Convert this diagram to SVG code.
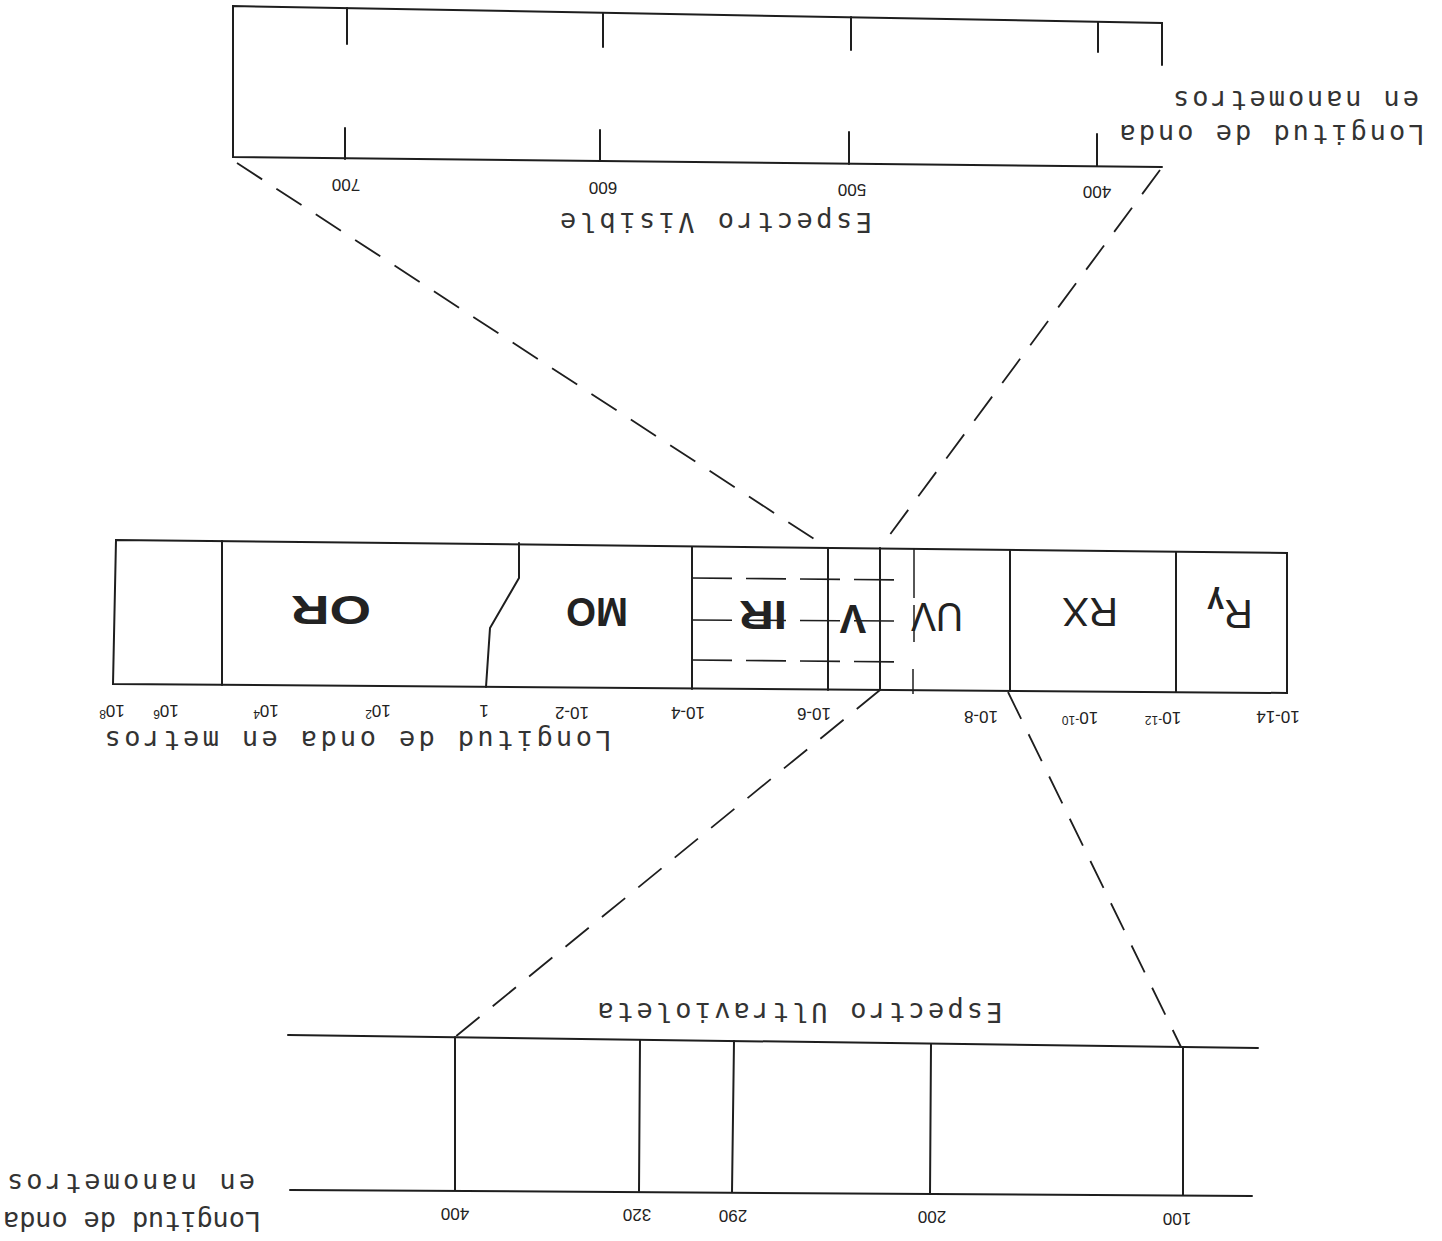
<svg xmlns="http://www.w3.org/2000/svg" width="1442" height="1241" viewBox="0 0 1442 1241">
<style>
.ln{stroke:#1e1e1e;stroke-width:2;fill:none;stroke-linecap:round}
.th{stroke:#1e1e1e;stroke-width:1.5;fill:none}
.dash{stroke:#1e1e1e;stroke-width:1.8;fill:none;stroke-dasharray:30 17}
.idash{stroke:#1e1e1e;stroke-width:1.6;fill:none;stroke-dasharray:40 14}
.mono{font-family:"DejaVu Sans Mono","Liberation Mono",monospace;font-size:27px;fill:#333;text-anchor:middle;dominant-baseline:central}
.num{font-family:"Liberation Sans",Arial,sans-serif;font-size:17px;fill:#222;text-anchor:middle;dominant-baseline:central}
.sm{font-size:12px}
.band{font-family:"Liberation Sans",Arial,sans-serif;font-size:40px;fill:#222;text-anchor:middle;dominant-baseline:central}
.b{font-weight:bold}
</style>
<rect width="1442" height="1241" fill="#fff"/>

<g id="visible-spectrum">
  <polyline class="ln" points="1162,65 1162,23 233,6 233,157 1162,167"/>
  <line class="ln" x1="347" y1="8" x2="347" y2="44"/>
  <line class="ln" x1="603" y1="13" x2="603" y2="47"/>
  <line class="ln" x1="851" y1="17" x2="851" y2="50"/>
  <line class="ln" x1="1098" y1="22" x2="1098" y2="52"/>
  <line class="ln" x1="345" y1="128" x2="345" y2="159"/>
  <line class="ln" x1="600" y1="130" x2="600" y2="161"/>
  <line class="ln" x1="849" y1="132" x2="849" y2="164"/>
  <line class="ln" x1="1097" y1="134" x2="1097" y2="166"/>
  <text class="num" x="346" y="184" transform="rotate(180 346 184)">700</text>
  <text class="num" x="603" y="187" transform="rotate(180 603 187)">600</text>
  <text class="num" x="852" y="189" transform="rotate(180 852 189)">500</text>
  <text class="num" x="1097" y="191" transform="rotate(180 1097 191)">400</text>
  <text class="mono" x="716" y="222" textLength="312" lengthAdjust="spacing" transform="rotate(180 716 222)">Espectro Visible</text>
  <text class="mono" x="1272" y="134" textLength="305" lengthAdjust="spacing" transform="rotate(180 1272 134)">Longitud de onda</text>
  <text class="mono" x="1296" y="100" textLength="246" lengthAdjust="spacing" transform="rotate(180 1296 100)">en nanometros</text>
</g>

<g id="em-spectrum">
  <polygon class="ln" points="116,540 1287,553 1287,693 113,684"/>
  <line class="ln" x1="222" y1="541" x2="222" y2="685"/>
  <polyline class="ln" points="519,543 519,578 490,628 486,687"/>
  <line class="ln" x1="692" y1="547" x2="692" y2="689"/>
  <line class="ln" x1="828" y1="548" x2="828" y2="690"/>
  <line class="ln" x1="880" y1="548" x2="880" y2="690"/>
  <line class="ln" x1="1010" y1="550" x2="1010" y2="691"/>
  <line class="ln" x1="1176" y1="552" x2="1176" y2="692"/>
  <g id="ir-v-overlap">
    <line class="idash" x1="692" y1="578" x2="908" y2="580"/>
    <line class="idash" x1="692" y1="620" x2="908" y2="621"/>
    <line class="idash" x1="692" y1="660" x2="908" y2="662"/>
    <line class="th" x1="914" y1="549" x2="914" y2="598"/>
    <line class="th" x1="914" y1="605" x2="914" y2="642"/>
    <line class="th" x1="913" y1="669" x2="913" y2="694"/>
  </g>
  <text class="band b" x="331" y="610" textLength="80" lengthAdjust="spacingAndGlyphs" transform="rotate(180 331 610)">OR</text>
  <text class="band b" x="597" y="612" textLength="62" lengthAdjust="spacingAndGlyphs" transform="rotate(180 597 612)">MO</text>
  <text class="band b" x="763" y="615" textLength="48" lengthAdjust="spacingAndGlyphs" transform="rotate(180 763 615)">IR</text>
  <text class="band b" x="853" y="619" transform="rotate(180 853 619)">V</text>
  <text class="band" x="937" y="617" textLength="52" lengthAdjust="spacingAndGlyphs" transform="rotate(180 937 617)">UV</text>
  <text class="band" x="1090" y="612" textLength="56" lengthAdjust="spacingAndGlyphs" transform="rotate(180 1090 612)">RX</text>
  <text class="band" x="1230" y="614" font-size="36" transform="rotate(180 1230 614)">R<tspan font-size="30" font-weight="bold" dy="10">γ</tspan></text>
  <text class="num" x="1278" y="716" transform="rotate(180 1278 716)">10-14</text>
  <text class="num" x="1163" y="717" transform="rotate(180 1163 717)">10<tspan class="sm" dy="-3">-12</tspan></text>
  <text class="num" x="1080" y="717" transform="rotate(180 1080 717)">10<tspan class="sm" dy="-3">-10</tspan></text>
  <text class="num" x="981" y="716" transform="rotate(180 981 716)">10-8</text>
  <text class="num" x="814" y="713" transform="rotate(180 814 713)">10-6</text>
  <text class="num" x="688" y="712" transform="rotate(180 688 712)">10-4</text>
  <text class="num" x="572" y="712" transform="rotate(180 572 712)">10-2</text>
  <text class="num" x="484" y="710" transform="rotate(180 484 710)">1</text>
  <text class="num" x="378" y="710" transform="rotate(180 378 710)">10<tspan class="sm" dy="-4">2</tspan></text>
  <text class="num" x="266" y="710" transform="rotate(180 266 710)">10<tspan class="sm" dy="-4">4</tspan></text>
  <text class="num" x="166" y="710" transform="rotate(180 166 710)">10<tspan class="sm" dy="-4">6</tspan></text>
  <text class="num" x="112" y="710" transform="rotate(180 112 710)">10<tspan class="sm" dy="-4">8</tspan></text>
  <text class="mono" x="358" y="740" textLength="507" lengthAdjust="spacing" transform="rotate(180 358 740)">Longitud de onda en metros</text>
</g>

<g id="uv-spectrum">
  <line class="ln" x1="288" y1="1035" x2="1258" y2="1048"/>
  <line class="ln" x1="290" y1="1190" x2="1252" y2="1196"/>
  <line class="ln" x1="455" y1="1037" x2="455" y2="1190"/>
  <line class="ln" x1="640" y1="1040" x2="639" y2="1191"/>
  <line class="ln" x1="734" y1="1041" x2="732" y2="1192"/>
  <line class="ln" x1="931" y1="1044" x2="930" y2="1194"/>
  <line class="ln" x1="1183" y1="1047" x2="1183" y2="1195"/>
  <text class="num" x="455" y="1213" transform="rotate(180 455 1213)">400</text>
  <text class="num" x="637" y="1214" transform="rotate(180 637 1214)">320</text>
  <text class="num" x="733" y="1215" transform="rotate(180 733 1215)">290</text>
  <text class="num" x="932" y="1216" transform="rotate(180 932 1216)">200</text>
  <text class="num" x="1177" y="1218" transform="rotate(180 1177 1218)">100</text>
  <text class="mono" x="800" y="1012" textLength="405" lengthAdjust="spacing" transform="rotate(180 800 1012)">Espectro Ultravioleta</text>
  <text class="mono" x="132" y="1221" textLength="258" lengthAdjust="spacing" transform="rotate(180 132 1221)">Longitud de onda</text>
  <text class="mono" x="131" y="1183" textLength="248" lengthAdjust="spacing" transform="rotate(180 131 1183)">en nanometros</text>
</g>

<g id="connectors">
  <line class="dash" x1="237" y1="163" x2="828" y2="548"/>
  <line class="dash" x1="1160" y1="170" x2="880" y2="548"/>
  <line class="dash" x1="880" y1="690" x2="455" y2="1037"/>
  <line class="dash" x1="1008" y1="692" x2="1181" y2="1047"/>
</g>
</svg>
